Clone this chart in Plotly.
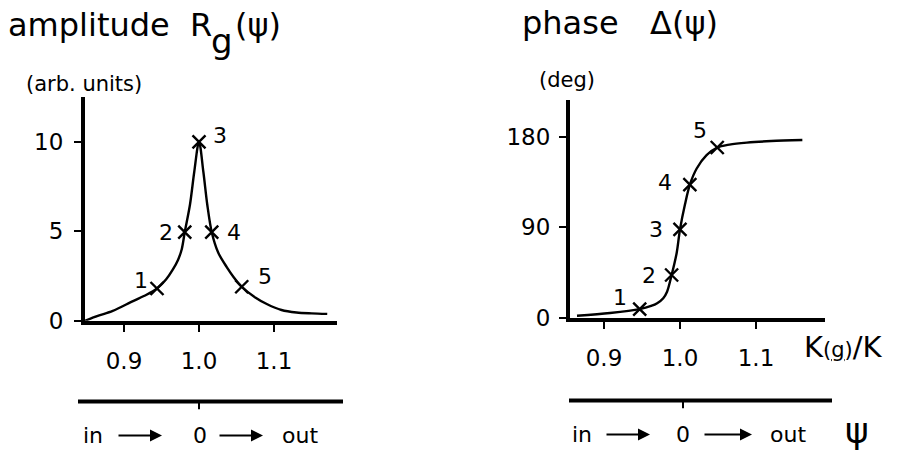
import plotly.graph_objects as go

W, H = 903, 462
FONT = "DejaVu Sans"

# amplitude R_g(psi) against K(g)/K
amp_k = [0.848, 0.865, 0.885, 0.912, 0.930, 0.944, 0.956, 0.965, 0.972, 0.977, 0.981, 0.988, 0.9937, 1.0,
         1.0058, 1.011, 1.017, 1.0257, 1.037, 1.046, 1.057, 1.075, 1.091, 1.11, 1.13, 1.15, 1.171]
amp_r = [0.0, 0.27, 0.55, 1.1, 1.45, 1.8, 2.3, 2.85, 3.4, 4.0, 4.95, 6.5, 8.33, 10.0,
         8.33, 6.5, 4.95, 3.8, 3.0, 2.45, 1.9, 1.3, 0.92, 0.6, 0.46, 0.41, 0.38]
amp_pt_k = [0.944, 0.981, 1.0, 1.017, 1.057]
amp_pt_r = [1.8, 4.95, 10.0, 4.95, 1.9]

# phase Delta(psi) against K(g)/K
ph_k = [0.8645, 0.908, 0.947, 0.962, 0.970, 0.978, 0.983, 0.989, 0.9957, 1.0, 1.0066, 1.013,
        1.022, 1.035, 1.049, 1.065, 1.088, 1.12, 1.161]
ph_d = [2.0, 4.8, 8.7, 11.8, 14.5, 19.5, 26.0, 42.6, 64.8, 88.0, 113.0, 132.6,
        148.7, 162.0, 169.6, 172.5, 174.5, 176.0, 177.0]
ph_pt_k = [0.947, 0.989, 1.0, 1.013, 1.049]
ph_pt_d = [8.7, 42.6, 88.0, 132.6, 169.6]

pt_labels = ["1", "2", "3", "4", "5"]
amp_ticks = [0, 5, 10]
ph_ticks = [0, 90, 180]
k_ticks = [0.9, 1.0, 1.1]
k_ticktext = ["0.9", "1.0", "1.1"]

# label offsets (pixels) of the point numbers relative to their markers
amp_lab_dx = [-16, -19, 21, 22, 23]
amp_lab_dy = [8, 0, 6, 0, 10]
ph_lab_dx = [-20, -23, -24, -25, -17]
ph_lab_dy = [12, 0, 0, 2, 17]


def px(x):
    return x / W


def py(y):
    return 1 - y / H


fig = go.Figure()

curve_line = dict(color="black", width=2.4, shape="spline", smoothing=0.9)
cross = dict(symbol="x-thin", size=13, line=dict(color="black", width=2.4))

fig.add_trace(go.Scatter(x=amp_k, y=amp_r, mode="lines", line=curve_line,
                         xaxis="x", yaxis="y", hoverinfo="skip"))
fig.add_trace(go.Scatter(x=amp_pt_k, y=amp_pt_r, mode="markers", marker=cross,
                         xaxis="x", yaxis="y"))
fig.add_trace(go.Scatter(x=ph_k, y=ph_d, mode="lines", line=curve_line,
                         xaxis="x2", yaxis="y2", hoverinfo="skip"))
fig.add_trace(go.Scatter(x=ph_pt_k, y=ph_pt_d, mode="markers", marker=cross,
                         xaxis="x2", yaxis="y2"))

axis_common = dict(showgrid=False, zeroline=False, showline=True, linecolor="black", linewidth=4,
                   ticks="outside", ticklen=7, tickwidth=2, tickcolor="black",
                   tickfont=dict(family=FONT, size=23, color="black"))

# left panel: plot area x 85..337 px, y 100..330 px
fig.update_layout(
    xaxis=dict(domain=[px(85), px(337)], range=[0.848, 1.184], anchor="y",
               tickvals=k_ticks, ticktext=k_ticktext, ticklabelstandoff=10, **axis_common),
    yaxis=dict(domain=[py(330), py(100)], range=[0, 12.5], anchor="x",
               tickvals=amp_ticks, ticklabelstandoff=6, **axis_common),
    xaxis2=dict(domain=[px(570), px(825)], range=[0.8553, 1.1908], anchor="y2",
                tickvals=k_ticks, ticktext=k_ticktext, ticklabelstandoff=10, **axis_common),
    yaxis2=dict(domain=[py(327), py(103)], range=[0, 216.8], anchor="x2",
                tickvals=ph_ticks, ticklabelstandoff=4, **axis_common),
)

ann = []
for k, r, t, dx, dy in zip(amp_pt_k, amp_pt_r, pt_labels, amp_lab_dx, amp_lab_dy):
    ann.append(dict(x=k, y=r, xref="x", yref="y", text=t, showarrow=False,
                    xshift=dx, yshift=dy, font=dict(family=FONT, size=22, color="black")))
for k, d, t, dx, dy in zip(ph_pt_k, ph_pt_d, pt_labels, ph_lab_dx, ph_lab_dy):
    ann.append(dict(x=k, y=d, xref="x2", yref="y2", text=t, showarrow=False,
                    xshift=dx, yshift=dy, font=dict(family=FONT, size=22, color="black")))


def text(x, y, s, size, anchor="left"):
    ann.append(dict(x=px(x), y=py(y), xref="paper", yref="paper", text=s, showarrow=False,
                    xanchor=anchor, yanchor="middle", font=dict(family=FONT, size=size, color="black")))


# titles
text(6, 26, "amplitude", 32)
text(188, 26, "R", 32)
text(209, 42, "g", 34)
text(233, 26, "(ψ)", 32)
text(24, 86, "(arb. units)", 21)
text(520, 24, "phase", 32)
text(648, 24, "Δ(ψ)", 32)
text(537, 82, "(deg)", 21)
text(802, 357, "K<span style='font-size:21px'>(<u>g</u>)</span>/K", 29)

# incidence scales beneath the panels
shapes = []
for x0, x1, yb, xt in [(78, 343, 413, 199), (569, 832, 412, 683)]:
    shapes.append(dict(type="line", xref="paper", yref="paper", x0=px(x0), x1=px(x1), y0=py(yb), y1=py(yb),
                       line=dict(color="black", width=4)))
    shapes.append(dict(type="line", xref="paper", yref="paper", x0=px(xt), x1=px(xt), y0=py(yb), y1=py(yb + 8),
                       line=dict(color="black", width=2)))

for xin, a1, x0, a2, xout, yt in [(93, (117, 162), 200, (218, 263), 300, 448),
                                   (582, (605, 650), 683, (703, 752), 788, 447)]:
    text(xin, yt, "in", 22, "center")
    text(x0, yt, "0", 22, "center")
    text(xout, yt, "out", 22, "center")
    for (xa, xb) in (a1, a2):
        ann.append(dict(x=px(xb), y=py(yt), xref="paper", yref="paper", ax=-(xb - xa), ay=0,
                        axref="pixel", ayref="pixel", text="", showarrow=True,
                        arrowhead=2, arrowsize=1.2, arrowwidth=2, arrowcolor="black"))
text(857, 443, "ψ", 36, "center")

fig.update_layout(width=W, height=H, margin=dict(l=0, r=0, t=0, b=0),
                  paper_bgcolor="white", plot_bgcolor="white", showlegend=False,
                  annotations=ann, shapes=shapes)

fig.write_html("out.html")
